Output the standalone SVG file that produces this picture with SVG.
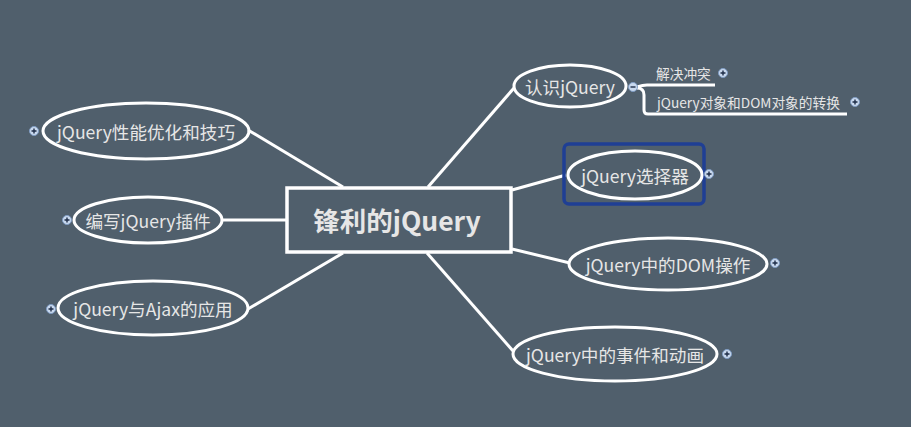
<svg xmlns="http://www.w3.org/2000/svg" width="911" height="427" viewBox="0 0 911 427">
<style>
.bg{fill:#505f6c}
.ell{fill:none;stroke:#ffffff;stroke-width:3}
.con{fill:none;stroke:#ffffff;stroke-width:3}
.t{font-family:"Noto Sans CJK SC","Noto Sans",sans-serif;font-size:17.6px;fill:#e6e6e6;text-anchor:middle;dominant-baseline:central}
.ts{font-family:"Noto Sans CJK SC","Noto Sans",sans-serif;font-size:13.7px;fill:#e6e6e6;dominant-baseline:central}
.tc{font-family:"Noto Sans CJK SC","Noto Sans",sans-serif;font-size:26.5px;font-weight:bold;fill:#e6e6e6;text-anchor:middle;dominant-baseline:central}
.ic{fill:#c9d9ee;stroke:#7f9cc4;stroke-width:1}
.pl{stroke:#1e2d48;stroke-width:1.4}
</style>
<defs>
<g id="plus"><circle class="ic" cx="0" cy="0" r="4.5"/><path class="pl" d="M-2.5,0H2.5M0,-2.5V2.5"/></g>
</defs>
<rect class="bg" x="0" y="0" width="911" height="427"/>
<g id="connectors">
<path class="con" d="M248,130 L343,187"/>
<path class="con" d="M222,220 L286,220"/>
<path class="con" d="M248,309 L343,253"/>
<path class="con" d="M428,187 L514,88"/>
<path class="con" d="M512,190 L566,175"/>
<path class="con" d="M512,249 L570,263"/>
<path class="con" d="M427,253 L514,352"/>
<path class="con" d="M637,87 Q643,85 647,85 L715,85"/>
<path class="con" d="M637,88 Q644,88 644,95 L644,110 Q644,114 648,114 L847,114"/>
</g>
<g id="central">
<rect x="287" y="188" width="224" height="64" fill="none" stroke="#ffffff" stroke-width="3.5"/>
<text class="tc" x="397" y="219">锋利的jQuery</text>
</g>
<g id="n-renshi">
<ellipse class="ell" cx="570" cy="86" rx="56" ry="21"/>
<text class="t" x="570" y="86">认识jQuery</text>
<circle class="ic" cx="633" cy="87" r="4.5"/><path class="pl" d="M630.5,87H635.5"/>
</g>
<g id="n-jiejue">
<text class="ts" x="656" y="73">解决冲突</text>
<use href="#plus" x="723" y="73"/>
</g>
<g id="n-zhuanhuan">
<text class="ts" x="657" y="102">jQuery对象和DOM对象的转换</text>
<use href="#plus" x="855" y="102"/>
</g>
<g id="n-xuanze">
<rect x="564" y="144" width="140" height="60" rx="5" fill="none" stroke="#1f3f94" stroke-width="3.5"/>
<ellipse class="ell" cx="635" cy="175" rx="67" ry="24"/>
<text class="t" x="635" y="175">jQuery选择器</text>
<use href="#plus" x="709" y="174"/>
</g>
<g id="n-dom">
<ellipse class="ell" cx="668" cy="264" rx="99" ry="26"/>
<text class="t" x="668" y="264">jQuery中的DOM操作</text>
<use href="#plus" x="775" y="263"/>
</g>
<g id="n-shijian">
<ellipse class="ell" cx="615" cy="354" rx="102" ry="27"/>
<text class="t" x="615" y="354">jQuery中的事件和动画</text>
<use href="#plus" x="727" y="354"/>
</g>
<g id="n-xingneng">
<ellipse class="ell" cx="146" cy="131" rx="103" ry="28"/>
<text class="t" x="146" y="131">jQuery性能优化和技巧</text>
<use href="#plus" x="34" y="131"/>
</g>
<g id="n-chajian">
<ellipse class="ell" cx="148" cy="220" rx="74" ry="23"/>
<text class="t" x="148" y="220">编写jQuery插件</text>
<use href="#plus" x="67" y="220"/>
</g>
<g id="n-ajax">
<ellipse class="ell" cx="153" cy="308" rx="95" ry="27"/>
<text class="t" x="153" y="308">jQuery与Ajax的应用</text>
<use href="#plus" x="51" y="309"/>
</g>
</svg>
